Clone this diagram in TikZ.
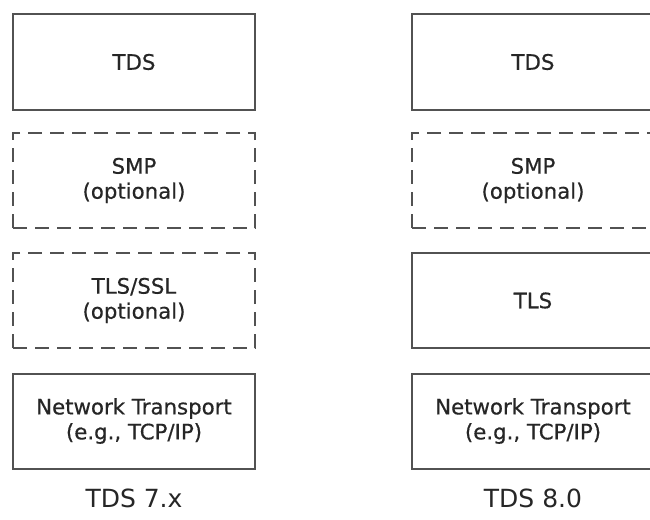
\documentclass[tikz,border=0pt]{standalone}
\usepackage{fontspec}
\setmainfont{DejaVu Sans}
\newfontfamily\boxfont[FakeBold=0.5]{DejaVu Sans}
\usepackage{tikz}

\tikzset{
  layer/.style={draw=black!68, line width=2pt, minimum width=242pt, minimum height=95pt,
    inner sep=0pt, align=center, text=black!85, font=\boxfont\fontsize{21.3}{25}\selectfont},
  optlayer/.style={layer, dash pattern=on 14pt off 8pt},
  caption/.style={text=black!85, font=\fontsize{25}{30}\selectfont}
}

\begin{document}
\begin{tikzpicture}[x=1pt,y=-1pt]
    \useasboundingbox (0,0) rectangle (650,519);

    % TDS 7.x stack
    \node[layer]    (tdsA) at (134,62)    {TDS};
    \node[optlayer] (smpA) at (134,180.5) {SMP\\(optional)};
    \node[optlayer] (tlsA) at (134,300.5) {TLS/SSL\\(optional)};
    \node[layer]    (netA) at (134,421)   {Network Transport\\(e.g., TCP/IP)};

    % TDS 8.0 stack
    \node[layer]    (tdsB) at (533,62)    {TDS};
    \node[optlayer] (smpB) at (533,180.5) {SMP\\(optional)};
    \node[layer]    (tlsB) at (533,300.5) {TLS};
    \node[layer]    (netB) at (533,421)   {Network Transport\\(e.g., TCP/IP)};

    % Labels
    \node[caption] (verA) at (134,498) {TDS 7.x};
    \node[caption] (verB) at (533,498) {TDS 8.0};

\end{tikzpicture}
\end{document}
